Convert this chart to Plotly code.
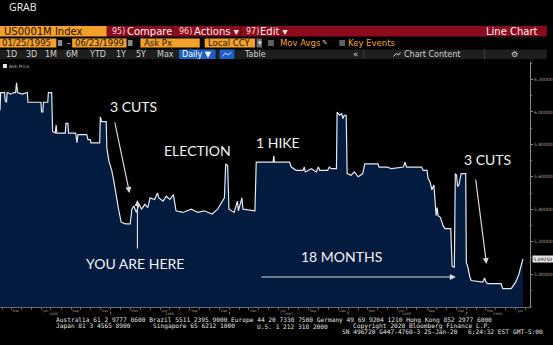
import plotly.graph_objects as go

# ---------------- data ----------------
dates = [
    "1995-01-25", "1995-01-27", "1995-02-08", "1995-02-10", "1995-02-14", "1995-02-16",
    "1995-02-28", "1995-03-08", "1995-03-14", "1995-03-17", "1995-03-20", "1995-04-03",
    "1995-04-19", "1995-04-21", "1995-05-10", "1995-05-31", "1995-06-02", "1995-06-06",
    "1995-06-08", "1995-06-21", "1995-06-23", "1995-07-03", "1995-07-06", "1995-07-14",
    "1995-07-17", "1995-07-19", "1995-08-14", "1995-08-16", "1995-08-22", "1995-08-24",
    "1995-09-15", "1995-09-19", "1995-09-22", "1995-10-19", "1995-10-23", "1995-10-30",
    "1995-11-01", "1995-11-28", "1995-11-30", "1995-12-04", "1995-12-18", "1995-12-20",
    "1995-12-26", "1996-01-04", "1996-01-10", "1996-01-19", "1996-01-25", "1996-02-02",
    "1996-02-15", "1996-03-01", "1996-03-06", "1996-03-12", "1996-03-20", "1996-03-28",
    "1996-04-05", "1996-04-15", "1996-04-24", "1996-05-01", "1996-05-15", "1996-05-24",
    "1996-05-28", "1996-06-10", "1996-06-20", "1996-07-01", "1996-07-12", "1996-07-20",
    "1996-08-10", "1996-09-05", "1996-09-25", "1996-10-15", "1996-11-08", "1996-11-25",
    "1996-12-05", "1996-12-16", "1996-12-20", "1996-12-26", "1996-12-30", "1997-01-15",
    "1997-01-25", "1997-01-28", "1997-02-08", "1997-02-11", "1997-03-20", "1997-03-24",
    "1997-05-15", "1997-05-17", "1997-05-19", "1997-07-05", "1997-07-10", "1997-07-25",
    "1997-08-15", "1997-08-19", "1997-08-22", "1997-09-10", "1997-09-25", "1997-10-01",
    "1997-10-06", "1997-10-30", "1997-11-04", "1997-11-10", "1997-11-26", "1997-11-28",
    "1997-12-05", "1997-12-12", "1997-12-16", "1997-12-20", "1997-12-26", "1997-12-29",
    "1998-01-10", "1998-01-20", "1998-02-01", "1998-02-15", "1998-02-21", "1998-04-03",
    "1998-04-06", "1998-05-01", "1998-05-15", "1998-06-20", "1998-06-25", "1998-06-30",
    "1998-08-15", "1998-08-20", "1998-09-01", "1998-09-04", "1998-09-10", "1998-09-16",
    "1998-09-22", "1998-09-25", "1998-09-29", "1998-10-02", "1998-10-05", "1998-10-12",
    "1998-10-20", "1998-10-26", "1998-11-13", "1998-11-17", "1998-11-24", "1998-11-27",
    "1998-12-01", "1998-12-04", "1998-12-08", "1998-12-15", "1998-12-29", "1998-12-31",
    "1999-01-05", "1999-01-11", "1999-01-15", "1999-02-20", "1999-02-25", "1999-03-02",
    "1999-03-07", "1999-04-17", "1999-04-22", "1999-05-18", "1999-05-22", "1999-06-01",
    "1999-06-11", "1999-06-23",
]
ask_price = [
    6.01, 6.12, 6.12, 6.07, 6.06, 6.12,
    6.11, 6.12, 6.12, 6.18, 6.12, 6.11,
    6.12, 6.06, 6.06, 6.06, 6.00, 6.00,
    6.06, 6.06, 6.12, 6.12, 5.88, 5.87,
    5.92, 5.87, 5.87, 5.93, 5.93, 5.87,
    5.87, 5.81, 5.86, 5.86, 5.83, 5.83,
    5.81, 5.81, 5.97, 5.94, 5.94, 5.78,
    5.70, 5.64, 5.58, 5.46, 5.40, 5.32,
    5.31, 5.31, 5.40, 5.42, 5.38, 5.43,
    5.40, 5.43, 5.41, 5.47, 5.46, 5.50,
    5.47, 5.45, 5.48, 5.46, 5.49, 5.39,
    5.38, 5.40, 5.38, 5.39, 5.37, 5.40,
    5.43, 5.47, 5.68, 5.67, 5.40, 5.38,
    5.45, 5.39, 5.47, 5.40, 5.39, 5.69,
    5.69, 5.73, 5.69, 5.69, 5.66, 5.64,
    5.64, 5.66, 5.63, 5.65, 5.63, 5.66,
    5.64, 5.64, 5.66, 5.65, 5.65, 6.00,
    5.98, 5.99, 5.96, 5.98, 5.98, 5.62,
    5.61, 5.63, 5.60, 5.62, 5.68, 5.68,
    5.66, 5.66, 5.65, 5.66, 5.69, 5.66,
    5.66, 5.64, 5.64, 5.59, 5.57, 5.52,
    5.55, 5.45, 5.36, 5.41, 5.36, 5.35,
    5.30, 5.28, 5.28, 5.05, 5.04, 5.62,
    5.61, 5.54, 5.55, 5.62, 5.62, 5.07,
    5.04, 4.98, 4.96, 4.95, 4.975, 4.95,
    4.94, 4.94, 4.91, 4.91, 4.92, 4.95,
    5.00, 5.0925,
]
last_price = 5.0925
last_price_text = "5.09250"

y_tick_vals = [5.0, 5.2, 5.4, 5.6, 5.8, 6.0, 6.2]
y_tick_text = ["5.00000", "5.20000", "5.40000", "5.60000", "5.80000", "6.00000", "6.20000"]

month_tick_dates = [
    "1995-03-15", "1995-06-15", "1995-09-15", "1995-12-15",
    "1996-03-15", "1996-06-15", "1996-09-15", "1996-12-15",
    "1997-03-15", "1997-06-15", "1997-09-15", "1997-12-15",
    "1998-03-15", "1998-06-15", "1998-09-15", "1998-12-15",
    "1999-03-15", "1999-06-15",
]
month_tick_text = ["Mar", "Jun", "Sep", "Dec"] * 4 + ["Mar", "Jun"]
year_label_dates = ["1995-07-10", "1996-07-01", "1997-07-01", "1998-06-29", "1999-04-05"]
year_labels = ["1995", "1996", "1997", "1998", "1999"]
year_bounds = ["1996-01-01", "1997-01-01", "1998-01-01", "1999-01-01"]

# ---------------- layout helpers ----------------
W, H = 553, 345
PL, PR, PT, PB = 0, 536, 62, 307


def px(x):
    return (x - PL) / (PR - PL)


def py(y):
    return (PB - y) / (PB - PT)


SANS = "DejaVu Sans"
MONO = "DejaVu Sans Mono"
NOTE = "Lato, Open Sans, sans-serif"

shapes = []
annotations = []


def rect(x0, y0, x1, y1, color):
    shapes.append(dict(type="rect", xref="paper", yref="paper",
                       x0=px(x0), x1=px(x1), y0=py(y1), y1=py(y0),
                       fillcolor=color, line=dict(width=0), layer="above"))


def vline(x, y0, y1, color, width=1):
    shapes.append(dict(type="line", xref="paper", yref="paper",
                       x0=px(x), x1=px(x), y0=py(y1), y1=py(y0),
                       line=dict(color=color, width=width), layer="above"))


def txt(x, y, s, size, color, family=SANS, xanchor="left", pad=1):
    annotations.append(dict(x=px(x), y=py(y), xref="paper", yref="paper", text=s,
                            showarrow=False, xanchor=xanchor, yanchor="middle",
                            borderpad=pad,
                            font=dict(size=size, color=color, family=family)))


def arrow(x0, y0, x1, y1):
    annotations.append(dict(x=px(x1), y=py(y1), xref="paper", yref="paper", text="",
                            showarrow=True, ax=x0 - x1, ay=y0 - y1,
                            axref="pixel", ayref="pixel",
                            arrowhead=2, arrowsize=1, arrowwidth=1.2,
                            arrowcolor="#d9d9d9", standoff=0))


ORANGE = "#f4a12a"
RED = "#8b0b1c"
DARK_TXT = "#1c1204"

# header
txt(7, 7, "GRAB", 10.5, "#f0f0f0", "Open Sans, sans-serif")

# bar 1
rect(0, 26, 108, 36.5, ORANGE)
rect(108, 26, 553, 36.5, RED)
vline(174.5, 26, 36.5, "#4d0610")
vline(243.5, 26, 36.5, "#4d0610")
txt(2, 31.5, "US0001M Index", 10, DARK_TXT)
txt(111, 31.5, "95)", 8, "#f3dede")
txt(126, 31.5, "Compare", 10, "#f7eeee")
txt(179, 31.5, "96)", 8, "#f3dede")
txt(194, 31.5, "Actions ▾", 10, "#f7eeee")
txt(247, 31.5, "97)", 8, "#f3dede")
txt(261, 31.5, "Edit ▾", 10, "#f7eeee")
txt(546, 31.5, "Line Chart", 10, "#f7eeee", xanchor="right")

# bar 2
rect(0, 38.5, 57, 47.5, ORANGE)
rect(58.5, 40, 63, 46, "#8a8a8a")
txt(66, 43, "-", 9, "#dddddd")
rect(73, 38.5, 128, 47.5, ORANGE)
rect(129.5, 40, 134, 46, "#8a8a8a")
rect(142, 38.5, 202, 47.5, ORANGE)
rect(207, 38.5, 258, 47.5, ORANGE)
rect(259.5, 38.5, 265, 47.5, "#6f6f6f")
rect(271, 40, 277, 46, "#5f5f5f")
rect(343, 40, 349, 46, "#5f5f5f")
txt(1.5, 43, "01/25/1995", 8.5, DARK_TXT, pad=0)
txt(74.5, 43, "06/23/1999", 8.5, DARK_TXT, pad=0)
txt(145, 43, "Ask Px", 8.5, DARK_TXT, pad=0)
txt(209, 43, "Local CCY", 8.5, DARK_TXT, pad=0)
txt(259.5, 43, "▾", 7, "#e0e0e0", pad=0)
txt(282, 43, "Mov Avgs", 8.5, ORANGE, pad=0)
txt(325, 43, "✎", 7, "#cfcfcf", pad=0)
txt(351, 43, "Key Events", 8.5, ORANGE, pad=0)

# bar 3
rect(0, 49.5, 553, 59, "#1e1e1e")
rect(181, 49.5, 218, 59, "#1d5fc8")
rect(222, 49.5, 237, 59, "#1d5fc8")
vline(368, 49.5, 59, "#3c3c3c")
vline(490, 49.5, 59, "#3c3c3c")
for lab, cx in [("1D", 12), ("3D", 32), ("1M", 52), ("6M", 73), ("YTD", 99),
                ("1Y", 122), ("5Y", 143), ("Max", 167)]:
    txt(cx, 54.3, lab, 8, "#cfcfcf", xanchor="center", pad=0)
txt(199.5, 54.3, "Daily ▼", 8, "#ffffff", xanchor="center", pad=0)
shapes.append(dict(type="path", xref="paper", yref="paper", layer="above",
                   path="M {} {} L {} {} L {} {} L {} {}".format(
                       px(225), py(56.5), px(228), py(53), px(231), py(55), px(234), py(52)),
                   line=dict(color="#cfe0ff", width=1)))
txt(257.5, 54.3, "Table", 8, "#cfcfcf", xanchor="center", pad=0)
txt(360, 54.3, "«", 8.5, "#cfcfcf", xanchor="center", pad=0)
shapes.append(dict(type="path", xref="paper", yref="paper", layer="above",
                   path="M {} {} L {} {} L {} {} L {} {}".format(
                       px(398), py(56.5), px(400.5), py(53.5), px(403), py(55), px(405), py(52.5)),
                   line=dict(color="#cfcfcf", width=1)))
txt(407.5, 54.3, "Chart Content", 8, "#cfcfcf", pad=0)
txt(520, 54.3, "⚙", 8, "#cfcfcf", xanchor="center", pad=0)

# legend entry inside plot
rect(3, 64, 7, 68, "#e6e6e6")
txt(8.5, 66, "Ask Price", 4.5, "#bbbbbb", pad=0)

# chart annotations
txt(135.5, 106, "3 CUTS", 14, "#f2f2f2", NOTE, "center")
arrow(116, 121, 131, 193)
txt(137, 263, "YOU ARE HERE", 14, "#f2f2f2", NOTE, "center")
arrow(139, 250, 139, 200)
txt(199.5, 150, "ELECTION", 14, "#f2f2f2", NOTE, "center")
txt(281.5, 142, "1 HIKE", 14, "#f2f2f2", NOTE, "center")
txt(493, 159, "3 CUTS", 14, "#f2f2f2", NOTE, "center")
arrow(481, 178, 492, 264)
txt(345, 256, "18 MONTHS", 14, "#f2f2f2", NOTE, "center")
arrow(265, 277, 461, 277)

# last price flag
annotations.append(dict(x=px(538.5), y=last_price, xref="paper", yref="y",
                        text=last_price_text, showarrow=False, xanchor="left",
                        yanchor="middle", bgcolor="#e6e6e6", borderpad=0.5,
                        font=dict(size=4.5, color="#000000", family=SANS)))

# year labels below the month labels
for d, lab in zip(year_label_dates, year_labels):
    annotations.append(dict(x=d, y=py(313.6), xref="x", yref="paper", text=lab,
                            showarrow=False, xanchor="center", yanchor="middle",
                            borderpad=0,
                            font=dict(size=3.5, color="#999999", family=SANS)))
for d in year_bounds:
    shapes.append(dict(type="line", xref="x", yref="paper", x0=d, x1=d,
                       y0=py(314.5), y1=py(311.5), line=dict(color="#777777", width=1)))

# footer
FOOT = "#e2e2e2"
txt(56, 320.2, "Australia 61 2 9777 8600 Brazil 5511 2395 9000 Europe 44 20 7330 7500 "
               "Germany 49 69 9204 1210 Hong Kong 852 2977 6000", 6.2, FOOT, MONO, pad=0)
txt(56, 326, "Japan 81 3 4565 8900", 6.2, FOOT, MONO, pad=0)
txt(154, 326, "Singapore 65 6212 1000", 6.2, FOOT, MONO, pad=0)
txt(259, 326, "U.S. 1 212 318 2000", 6.2, FOOT, MONO, pad=0)
txt(356, 326, "Copyright 2020 Bloomberg Finance L.P.", 6.2, FOOT, MONO, pad=0)
txt(345, 331.8, "SN 496720 G447-4760-3 25-Jan-20", 6.2, FOOT, MONO, pad=0)
txt(472, 331.8, "6:24:32 EST", 6.2, FOOT, MONO, pad=0)
txt(518, 331.8, "GMT-5:00", 6.2, FOOT, MONO, pad=0)

# ---------------- figure ----------------
fig = go.Figure()
fig.add_trace(go.Scatter(
    x=dates, y=ask_price, mode="lines", name="Ask Price",
    line=dict(color="#e3e9f0", width=1.2),
    fill="tozeroy", fillcolor="#031b3e",
))

fig.update_layout(
    width=W, height=H,
    margin=dict(l=PL, r=W - PR, t=PT, b=H - PB, pad=0),
    paper_bgcolor="#000000", plot_bgcolor="#000000",
    showlegend=False,
    shapes=shapes, annotations=annotations,
    xaxis=dict(
        type="date", range=["1995-01-25", "1999-07-15"],
        tickmode="array", tickvals=month_tick_dates, ticktext=month_tick_text,
        tickfont=dict(size=3.5, color="#999999", family=SANS),
        ticks="", ticklen=0,
        minor=dict(tickmode="linear", tick0="1995-01-01", dtick="M1",
                   ticks="outside", ticklen=2, tickcolor="#666666"),
        showline=True, linecolor="#6a6a6a", linewidth=1,
        showgrid=False, zeroline=False, fixedrange=True,
    ),
    yaxis=dict(
        side="right", range=[4.7963, 6.3086],
        tickmode="array", tickvals=y_tick_vals, ticktext=y_tick_text,
        tickfont=dict(size=4.5, color="#a0a0a0", family=SANS),
        ticks="outside", ticklen=2, tickcolor="#8a8a8a",
        minor=dict(tickmode="linear", tick0=5.0, dtick=0.1,
                   ticks="outside", ticklen=1, tickcolor="#666666"),
        showline=True, linecolor="#8a8a8a", linewidth=1,
        showgrid=False, zeroline=False, fixedrange=True,
    ),
)

fig.write_html("out.html")
